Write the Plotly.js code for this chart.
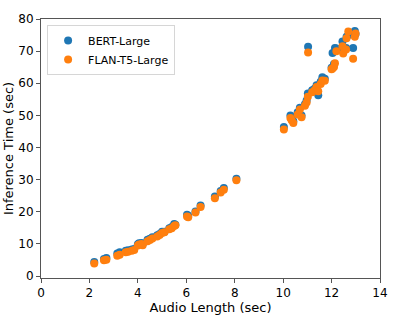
<!DOCTYPE html>
<html>
<head>
<meta charset="utf-8">
<script src="https://cdn.plot.ly/plotly-3.0.1.min.js"></script>
<style>html,body{margin:0;padding:0;background:#fff;}#chart{width:395px;height:316px;}</style>
</head>
<body>
<div id="chart"></div>
<script>
const audioLength = [2.2,2.6,2.7,3.15,3.25,3.5,3.6,3.75,3.85,4.0,4.05,4.15,4.2,4.4,4.5,4.6,4.8,4.9,5.0,5.1,5.3,5.4,5.5,5.55,
  6.03,6.08,6.38,6.59,7.18,7.42,7.55,8.07,
  10.03,10.3,10.35,10.42,10.6,10.69,10.76,10.9,10.97,11.02,11.03,11.2,11.3,11.38,11.45,11.55,11.62,11.72,
  12.0,12.04,12.1,12.14,12.2,12.45,12.48,12.6,12.62,12.69,12.89,12.96,12.99];
const bertLarge = [4.4,5.3,5.6,7.0,7.4,7.9,8.0,8.3,8.4,9.9,10.2,10.3,10.0,11.3,11.6,12.1,12.7,13.1,13.8,13.8,14.9,15.3,16.2,16.0,
  19.1,18.8,20.1,22.0,24.8,26.5,27.4,30.3,
  46.4,50.0,49.4,48.2,51.0,52.4,50.0,53.5,54.6,56.8,71.4,57.8,58.3,59.4,56.3,60.5,61.9,61.4,
  64.8,69.4,66.0,71.0,70.8,73.0,70.5,71.0,74.5,75.0,71.0,76.3,75.3];
const flanT5Large = [3.9,4.9,5.1,6.3,6.6,7.4,7.6,7.9,8.1,9.5,9.8,10.0,9.6,10.8,11.2,11.7,12.3,12.8,13.4,13.6,14.6,14.9,15.6,15.8,
  18.5,18.3,19.8,21.5,24.2,26.0,26.9,29.8,
  45.6,49.2,48.5,47.6,50.3,51.8,49.4,53.0,54.0,55.8,69.6,57.2,57.8,58.8,57.5,59.8,60.9,60.8,
  64.4,64.6,65.1,66.2,70.0,71.5,69.3,70.5,74.0,76.1,67.6,74.5,75.5];
const seriesNames = ["BERT-Large","FLAN-T5-Large"];
const xTicks = [0,2,4,6,8,10,12,14];
const yTicks = [0,10,20,30,40,50,60,70,80];

const traces = [
  {x: audioLength, y: bertLarge, name: seriesNames[0], mode: "markers", type: "scatter",
   marker: {color: "#1f77b4", size: 8}},
  {x: audioLength, y: flanT5Large, name: seriesNames[1], mode: "markers", type: "scatter",
   marker: {color: "#ff7f0e", size: 8}}
];
const axisCommon = {showgrid: false, zeroline: false, showline: true, mirror: true, linecolor: "#555", linewidth: 1,
  ticks: "outside", ticklen: 4, tickcolor: "#555", tickfont: {family: "DejaVu Sans", size: 12, color: "#000"}};
const layout = {
  width: 395, height: 316,
  margin: {l: 41, r: 15, t: 19, b: 38},
  paper_bgcolor: "#fff", plot_bgcolor: "#fff",
  font: {family: "DejaVu Sans", size: 11, color: "#000"},
  showlegend: true,
  legend: {x: 0.018, y: 0.977, xanchor: "left", yanchor: "top", bgcolor: "rgba(255,255,255,0.9)",
    bordercolor: "#d6d6d6", borderwidth: 1, font: {family: "DejaVu Sans", size: 11, color: "#000"},
    tracegroupgap: 0},
  xaxis: Object.assign({}, axisCommon, {range: [0, 14], tickvals: xTicks,
    title: {text: "Audio Length (sec)", font: {family: "DejaVu Sans", size: 13, color: "#000"}, standoff: 3}}),
  yaxis: Object.assign({}, axisCommon, {range: [-0.6, 80], tickvals: yTicks,
    title: {text: "Inference Time (sec)", font: {family: "DejaVu Sans", size: 13, color: "#000"}, standoff: 1}})
};
Plotly.newPlot("chart", traces, layout, {displayModeBar: false, staticPlot: true});
</script>
</body>
</html>
